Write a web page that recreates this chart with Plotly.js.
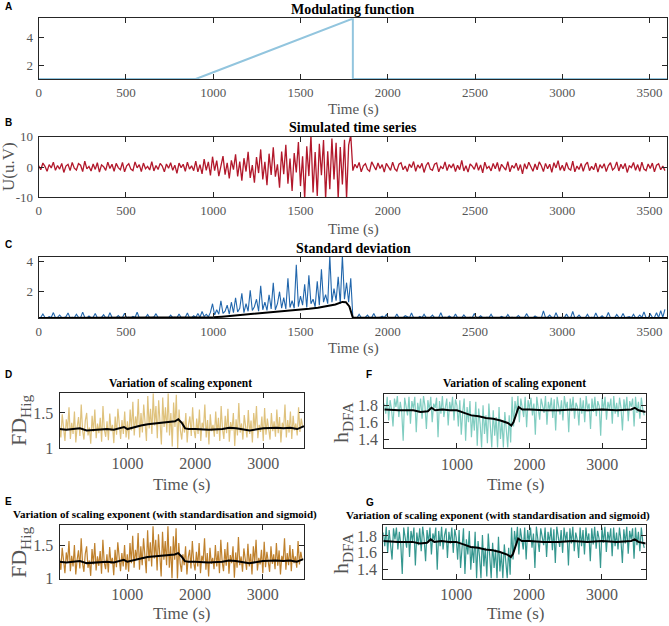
<!DOCTYPE html>
<html>
<head>
<meta charset="utf-8">
<script src="https://cdn.plot.ly/plotly-3.0.1.min.js"></script>
<style>html,body{margin:0;padding:0;background:#fff;}#chart{width:669px;height:626px;}</style>
</head>
<body>
<div id="chart"></div>
<script>
// ---------- DATA ----------
// A: modulating function
const modT = [0, 900, 1800, 1800, 3600];
const modV = [1, 1, 5.4, 1, 1];

// B: simulated time series (one value every 12 s from 0 s)
const simStart = 0, simStep = 12;
const simV = [
 0.4,-0.9,1.3,0.2,-1.4,0.8,-0.3,1.6,-1.1,0.5,
 -0.7,1.2,-1.8,0.3,0.9,-1.2,1.5,-0.4,-1.0,1.1,
 0.6,-1.5,1.9,-0.6,0.2,-1.3,1.0,-0.8,1.4,-1.7,
 0.7,0.1,-1.1,1.6,-0.5,0.9,-1.4,1.2,-0.2,-0.9,
 1.5,-1.6,0.4,1.1,-0.7,-1.2,1.7,-0.3,0.8,-1.5,
 1.3,-0.6,0.2,-1.0,1.8,-1.3,0.5,-0.8,1.2,0.3,
 -1.6,1.0,-0.4,1.4,-1.1,0.6,-2.1,1.3,-0.2,0.9,
 -1.4,1.6,-0.7,0.4,-1.2,
 1.9,-1.6,0.8,-2.3,2.6,-1.1,1.7,-2.8,
 3.4,-1.2,2.1,-3.0,0.8,3.6,-2.5,1.4,-3.8,2.2,
 -0.9,4.2,-3.1,1.8,-4.5,2.9,-1.5,5.0,-3.6,0.6,
 -5.2,3.3,-2.0,5.8,-4.1,1.7,-6.0,4.4,-2.6,6.5,
 -3.2,0.9,-6.8,5.1,-2.4,7.3,-5.5,2.8,-7.9,4.6,
 -1.8,8.2,-6.3,3.5,-10.5,6.8,-3.0,10.5,-8.4,4.9,
 -9.6,7.7,-2.7,8.9,-10.5,5.2,-7.3,9.4,-4.1,8.0,
 -10.5,6.6,-5.8,9.0,-10.5,7.2,10.5,
 -1.2,0.9,-0.3,1.5,-1.6,0.4,1.1,-0.8,-1.4,1.7,
 0.2,-1.0,1.3,-0.5,0.8,-1.7,1.2,0.1,-1.1,1.6,
 -0.6,-1.3,0.9,1.4,-0.9,0.3,-1.5,1.0,-0.2,1.8,
 -1.4,0.7,-0.4,1.2,-1.8,0.5,1.5,-0.7,-1.1,0.9,
 1.3,-1.6,0.2,-0.6,1.7,-1.2,0.8,-0.3,1.1,-1.5,
 0.6,-0.9,2.2,-1.3,0.4,-1.7,1.0,0.3,-0.8,1.4,
 -1.1,0.7,-1.9,1.6,-0.5,0.2,-1.3,1.2,-0.6,1.5,
 -1.4,0.9,0.1,-1.0,1.8,-1.6,0.5,-0.4,1.3,-1.2,
 0.8,-2.3,1.1,-0.7,1.6,-0.2,-1.4,1.0,-0.9,1.7,
 0.4,-1.5,1.2,-0.6,0.9,-1.8,1.4,-0.3,2.1,-1.1,
 0.6,-1.3,1.5,-0.5,-1.0,1.9,-1.6,0.3,-0.8,1.2,
 -1.4,0.7,1.6,-1.2,0.2,-0.9,1.3,-1.7,0.8,-0.4,
 1.1,-1.5,0.5,1.4,-1.0,-0.3,1.7,-1.3,0.9,-0.6,
 1.2,-1.8,0.4,-0.2,1.5,-1.1,0.8,-1.4,1.6,-0.7,
 -1.2,1.0,-0.5,1.3,-1.6,0.6,1.1,-0.9,0.3,-1.2
];

// C: standard deviation (one value every 12 s) and its smoothed curve
const sdV = [
 0.27,0.3,0.52,0.28,0.26,0.35,0.29,0.61,0.27,0.3,
 0.45,0.28,0.26,0.33,0.58,0.27,0.29,0.26,0.5,0.3,
 0.27,0.64,0.28,0.26,0.38,0.27,0.3,0.55,0.26,0.28,
 0.29,0.47,0.27,0.26,0.6,0.3,0.28,0.27,0.42,0.26,
 0.29,0.57,0.27,0.3,0.26,0.36,0.28,0.63,0.27,0.26,
 0.3,0.28,0.49,0.27,0.26,0.31,0.54,0.28,0.27,0.26,
 0.3,0.28,0.26,0.44,0.27,0.29,0.26,0.52,0.28,0.27,
 0.3,0.58,0.27,0.26,0.4,
 0.29,0.55,0.3,0.68,0.35,0.5,0.32,0.62,
 1.2,0.45,0.8,0.5,1.4,0.55,0.7,1.1,0.5,1.3,
 0.6,1.6,0.65,0.9,1.9,0.6,1.2,0.7,2.1,0.75,
 1.0,1.5,0.7,2.4,0.8,1.3,0.75,1.8,0.85,2.6,
 0.8,1.2,2.0,0.9,1.6,0.85,2.9,0.95,1.4,0.9,
 3.8,1.0,1.7,1.1,2.5,0.95,3.1,1.2,1.5,1.0,
 2.7,1.1,3.5,1.3,1.8,1.2,4.4,1.3,2.2,1.4,
 3.0,1.2,4.4,1.5,2.6,1.3,2.9,
 0.3,0.27,0.26,0.5,0.28,0.27,0.3,0.44,0.26,0.28,
 0.55,0.27,0.26,0.29,0.37,0.27,0.48,0.26,0.28,0.3,
 0.27,0.52,0.26,0.28,0.27,0.4,0.3,0.26,0.58,0.27,
 0.28,0.26,0.35,0.27,0.5,0.28,0.26,0.3,0.45,0.27,
 0.26,0.28,0.6,0.27,0.3,0.26,0.38,0.28,0.27,0.52,
 0.26,0.29,0.27,0.46,0.28,0.26,0.3,0.27,0.55,0.26,
 0.28,0.4,0.27,0.26,0.3,0.28,0.5,0.27,0.26,0.29,
 0.27,0.36,0.28,0.26,0.48,0.27,0.3,0.26,0.28,0.42,
 0.27,0.26,0.3,0.54,0.28,0.27,0.26,0.38,0.29,0.27,
 0.26,0.72,0.28,0.3,0.45,0.27,0.26,0.6,0.28,0.27,
 0.3,0.26,0.52,0.28,0.27,0.68,0.26,0.29,0.44,0.27,
 0.28,0.26,0.5,0.27,0.3,0.26,0.58,0.28,0.27,0.4,
 0.26,0.29,0.62,0.27,0.28,0.26,0.48,0.3,0.27,0.55,
 0.26,0.28,0.34,0.27,0.5,0.26,0.3,0.45,0.28,0.66,
 0.27,0.26,0.52,0.3,0.28,0.6,0.27,0.74,0.3,0.82
];
const sdSmoothT = [0, 990, 1000, 1050, 1100, 1150, 1200, 1250, 1300, 1350, 1400, 1450, 1500, 1550, 1600, 1650, 1700, 1740, 1760, 1780, 1800, 3600];
const sdSmoothV = [0.25, 0.25, 0.3, 0.34, 0.39, 0.43, 0.48, 0.52, 0.58, 0.62, 0.68, 0.73, 0.8, 0.86, 0.93, 1.02, 1.15, 1.32, 1.3, 1.02, 0.27, 0.25];

// D-G: scaling exponents (one value every 20 s from 0 s)
const expStart = 0, expStep = 20;
const fdHig = [
 1.32,1.15,1.48,1.22,1.1,1.41,1.27,1.58,1.13,1.36,
 1.2,1.52,1.08,1.3,1.44,1.17,1.62,1.25,1.12,1.39,
 1.5,1.18,1.29,1.06,1.46,1.23,1.55,1.14,1.35,1.21,
 1.43,1.09,1.6,1.26,1.16,1.38,1.11,1.49,1.24,1.33,
 1.07,1.45,1.19,1.56,1.28,1.13,1.4,1.2,1.52,1.15,
 1.38,1.12,1.55,1.25,1.66,1.18,1.45,1.3,1.7,1.15,
 1.5,1.22,1.62,1.35,1.1,1.74,1.28,1.56,1.2,1.78,
 1.32,1.6,1.14,1.68,1.4,1.05,1.72,1.3,1.58,1.22,
 1.78,1.18,1.5,1.02,1.65,1.3,1.76,1.0,1.55,1.25,
 1.12,1.38,1.22,1.5,1.08,1.34,1.45,1.17,1.58,1.26,
 1.14,1.42,1.2,1.55,1.1,1.36,1.28,1.62,1.15,1.4,
 1.05,1.48,1.24,1.33,1.16,1.52,1.2,1.43,1.1,1.6,
 1.27,1.13,1.46,1.21,1.56,1.09,1.37,1.25,1.5,1.03,
 1.41,1.18,1.64,1.22,1.35,1.12,1.47,1.28,1.15,1.54,
 1.2,1.39,1.08,1.5,1.26,1.6,1.14,1.33,1.23,1.45,
 1.1,1.57,1.19,1.42,1.29,1.12,1.5,1.24,1.38,1.16,
 1.55,1.21,1.44,1.08,1.36,1.27,1.62,1.15,1.4,1.22,
 1.52,1.13,1.46,1.25,1.35,1.18,1.58,1.23,1.42,1.3
];
const fdHigStd = [
 1.3,1.13,1.46,1.2,1.08,1.39,1.25,1.56,1.11,1.34,
 1.18,1.5,1.06,1.28,1.42,1.15,1.6,1.23,1.1,1.37,
 1.48,1.16,1.27,1.04,1.44,1.21,1.53,1.12,1.33,1.19,
 1.41,1.07,1.58,1.24,1.14,1.36,1.09,1.47,1.22,1.31,
 1.05,1.43,1.17,1.54,1.26,1.11,1.38,1.18,1.5,1.13,
 1.36,1.1,1.53,1.23,1.64,1.16,1.43,1.28,1.68,1.13,
 1.48,1.2,1.6,1.33,1.08,1.72,1.26,1.54,1.18,1.78,
 1.3,1.58,1.12,1.66,1.38,1.03,1.7,1.28,1.56,1.2,
 1.78,1.16,1.48,1.0,1.63,1.28,1.75,0.98,1.53,1.23,
 1.1,1.36,1.2,1.48,1.06,1.32,1.43,1.15,1.56,1.24,
 1.12,1.4,1.18,1.53,1.08,1.34,1.26,1.6,1.13,1.38,
 1.03,1.46,1.22,1.31,1.14,1.5,1.18,1.41,1.08,1.58,
 1.25,1.11,1.44,1.19,1.54,1.07,1.35,1.23,1.48,1.01,
 1.39,1.16,1.62,1.2,1.33,1.1,1.45,1.26,1.13,1.52,
 1.18,1.37,1.06,1.48,1.24,1.58,1.12,1.31,1.21,1.43,
 1.08,1.55,1.17,1.4,1.27,1.1,1.48,1.22,1.36,1.14,
 1.53,1.19,1.42,1.06,1.34,1.25,1.6,1.13,1.38,1.2,
 1.5,1.11,1.44,1.23,1.33,1.16,1.56,1.21,1.4,1.28
];
const hDfa = [
 1.82,1.7,1.9,1.62,1.86,1.75,1.55,1.88,1.78,1.91,
 1.66,1.84,1.72,1.38,1.89,1.8,1.68,1.9,1.58,1.85,
 1.76,1.9,1.48,1.83,1.71,1.88,1.64,1.91,1.79,1.52,
 1.86,1.74,1.9,1.6,1.82,1.77,1.89,1.42,1.85,1.7,
 1.91,1.66,1.8,1.88,1.56,1.84,1.73,1.9,1.62,1.87,
 1.8,1.55,1.86,1.45,1.72,1.88,1.38,1.78,1.6,1.85,
 1.42,1.7,1.5,1.84,1.32,1.76,1.58,1.3,1.8,1.46,
 1.68,1.35,1.82,1.52,1.3,1.74,1.44,1.66,1.3,1.78,
 1.4,1.62,1.3,1.72,1.48,1.3,1.68,1.36,1.9,1.55,
 1.85,1.72,1.91,1.6,1.88,1.78,1.66,1.9,1.54,1.86,
 1.75,1.89,1.68,1.82,1.45,1.9,1.77,1.63,1.88,1.8,
 1.71,1.91,1.57,1.84,1.74,1.89,1.65,1.87,1.5,1.9,
 1.79,1.69,1.86,1.62,1.91,1.76,1.84,1.48,1.88,1.73,
 1.9,1.64,1.83,1.78,1.56,1.89,1.7,1.86,1.6,1.91,
 1.75,1.82,1.52,1.88,1.72,1.9,1.67,1.85,1.79,1.44,
 1.89,1.74,1.9,1.63,1.84,1.76,1.88,1.58,1.91,1.7,
 1.83,1.66,1.89,1.77,1.5,1.87,1.73,1.9,1.61,1.85,
 1.78,1.88,1.55,1.9,1.71,1.84,1.64,1.89,1.75,1.68
];
const hDfaStd = [
 1.84,1.68,1.91,1.6,1.87,1.73,1.52,1.89,1.76,1.9,
 1.64,1.85,1.7,1.35,1.9,1.78,1.66,1.91,1.55,1.86,
 1.74,1.9,1.45,1.84,1.69,1.89,1.62,1.91,1.77,1.5,
 1.87,1.72,1.9,1.58,1.83,1.75,1.9,1.4,1.86,1.68,
 1.91,1.64,1.81,1.89,1.54,1.85,1.71,1.9,1.6,1.88,
 1.78,1.52,1.87,1.42,1.7,1.89,1.35,1.76,1.58,1.86,
 1.4,1.68,1.48,1.85,1.3,1.74,1.56,1.3,1.81,1.44,
 1.66,1.32,1.83,1.5,1.3,1.72,1.42,1.64,1.3,1.79,
 1.38,1.6,1.3,1.7,1.46,1.3,1.66,1.34,1.9,1.52,
 1.86,1.7,1.91,1.58,1.89,1.76,1.64,1.9,1.52,1.87,
 1.73,1.9,1.66,1.83,1.42,1.91,1.75,1.61,1.89,1.78,
 1.69,1.9,1.55,1.85,1.72,1.9,1.63,1.88,1.48,1.91,
 1.77,1.67,1.87,1.6,1.9,1.74,1.85,1.45,1.89,1.71,
 1.91,1.62,1.84,1.76,1.54,1.9,1.68,1.87,1.58,1.9,
 1.73,1.83,1.5,1.89,1.7,1.91,1.65,1.86,1.77,1.42,
 1.9,1.72,1.91,1.61,1.85,1.74,1.89,1.56,1.9,1.68,
 1.84,1.64,1.9,1.75,1.48,1.88,1.71,1.91,1.59,1.86,
 1.76,1.89,1.53,1.9,1.69,1.85,1.62,1.9,1.73,1.66
];
// smoothed curves (black)
const fdSmoothT = [0,100,200,300,400,500,600,700,800,900,950,1000,1100,1200,1300,1400,1500,1600,1700,1750,1800,1850,1900,2000,2200,2400,2500,2600,2800,3000,3200,3300,3400,3500,3600];
const fdHigSmooth = [1.27,1.26,1.27,1.28,1.25,1.26,1.27,1.27,1.26,1.28,1.3,1.27,1.3,1.32,1.34,1.35,1.36,1.37,1.38,1.41,1.36,1.28,1.27,1.27,1.26,1.27,1.29,1.28,1.25,1.28,1.29,1.28,1.29,1.27,1.31];
const fdHigStdSmooth = [1.25,1.24,1.25,1.26,1.23,1.24,1.25,1.25,1.24,1.26,1.28,1.25,1.28,1.3,1.32,1.33,1.34,1.35,1.36,1.38,1.33,1.26,1.25,1.25,1.24,1.25,1.27,1.26,1.23,1.26,1.27,1.26,1.27,1.25,1.29];
const hSmoothT = [0,200,400,500,600,650,700,800,900,1000,1100,1200,1300,1400,1500,1600,1700,1750,1780,1820,1850,1900,2000,2200,2400,2600,2800,3000,3200,3400,3450,3500,3600];
const hDfaSmooth = [1.75,1.74,1.74,1.72,1.73,1.77,1.74,1.75,1.74,1.74,1.71,1.68,1.67,1.65,1.64,1.62,1.59,1.56,1.6,1.72,1.78,1.75,1.75,1.74,1.74,1.75,1.74,1.75,1.74,1.75,1.77,1.74,1.72];
const hDfaStdSmooth = [1.74,1.73,1.73,1.71,1.72,1.76,1.73,1.74,1.73,1.73,1.7,1.67,1.66,1.64,1.63,1.61,1.58,1.55,1.59,1.71,1.77,1.74,1.74,1.73,1.73,1.74,1.73,1.74,1.73,1.74,1.76,1.73,1.71];

// tick labels
const longTicks = [0,500,1000,1500,2000,2500,3000,3500];
const shortTicks = [1000,2000,3000];
const simTicks = [-10,0,10];
const simTickText = ['-10','0','10'];

// texts
const panelLetters = ['A','B','C','D','E','F','G'];
const panelTitles = ['Modulating function','Simulated time series','Standard deviation',
  'Variation of scaling exponent','Variation of scaling exponent (with standardisation and sigmoid)',
  'Variation of scaling exponent','Variation of scaling exponent (with standardisation and sigmoid)'];
const timeLabel = 'Time (s)';
const simYLabel = 'U(u.V)';
const fdYLabel = 'FD<sub>Hig</sub>';
const hYLabel = 'h<sub>DFA</sub>';

// ---------- LAYOUT HELPERS ----------
const W = 669, H = 626;
const px = v => v / W;
const py = v => 1 - v / H;
const SERIF = 'Liberation Serif, Times New Roman, serif';
const AX = '#262626', TXT = '#555555';

function xax(l, r, anchor, range, tickvals, size) {
  return {domain:[px(l), px(r)], anchor, range, tickvals, ticktext: tickvals.map(String),
    showline:true, mirror:'ticks', linecolor:AX, linewidth:1, ticks:'inside', ticklen:5, tickcolor:AX,
    showgrid:false, zeroline:false, tickfont:{family:SERIF, size, color:TXT}, ticklabelstandoff:1};
}
function yax(t, b, anchor, range, tickvals, ticktext, size) {
  return {domain:[py(b), py(t)], anchor, range, tickvals, ticktext: ticktext || tickvals.map(String),
    showline:true, mirror:'ticks', linecolor:AX, linewidth:1, ticks:'inside', ticklen:5, tickcolor:AX,
    showgrid:false, zeroline:false, tickfont:{family:SERIF, size, color:TXT}, ticklabelstandoff:2};
}

const traces = [
  {x:modT, y:modV, xaxis:'x', yaxis:'y', mode:'lines', line:{color:'#92c5de', width:2}},
  {x0:simStart, dx:simStep, y:simV, xaxis:'x2', yaxis:'y2', mode:'lines', line:{color:'#b2182b', width:1.3}},
  {x0:simStart, dx:simStep, y:sdV, xaxis:'x3', yaxis:'y3', mode:'lines', line:{color:'#2166ac', width:1.1}},
  {x:sdSmoothT, y:sdSmoothV, xaxis:'x3', yaxis:'y3', mode:'lines', line:{color:'#000', width:2}},
  {x0:expStart, dx:expStep, y:fdHig, xaxis:'x4', yaxis:'y4', mode:'lines', line:{color:'#dfc27d', width:1.2}},
  {x:fdSmoothT, y:fdHigSmooth, xaxis:'x4', yaxis:'y4', mode:'lines', line:{color:'#000', width:2}},
  {x0:expStart, dx:expStep, y:fdHigStd, xaxis:'x6', yaxis:'y6', mode:'lines', line:{color:'#bf812d', width:1.2}},
  {x:fdSmoothT, y:fdHigStdSmooth, xaxis:'x6', yaxis:'y6', mode:'lines', line:{color:'#000', width:2}},
  {x0:expStart, dx:expStep, y:hDfa, xaxis:'x5', yaxis:'y5', mode:'lines', line:{color:'#80cdc1', width:1.2}},
  {x:hSmoothT, y:hDfaSmooth, xaxis:'x5', yaxis:'y5', mode:'lines', line:{color:'#000', width:2}},
  {x0:expStart, dx:expStep, y:hDfaStd, xaxis:'x7', yaxis:'y7', mode:'lines', line:{color:'#35978f', width:1.2}},
  {x:hSmoothT, y:hDfaStdSmooth, xaxis:'x7', yaxis:'y7', mode:'lines', line:{color:'#000', width:2}}
];

function ann(text, x, y, opts) {
  return Object.assign({text, x:px(x), y:py(y), xref:'paper', yref:'paper', showarrow:false,
    xanchor:'center', yanchor:'middle'}, opts || {});
}
const titleFont = s => ({family:SERIF, size:s, color:'#000', weight:'bold'});
const letterFont = {family:'Liberation Sans, Arial, sans-serif', size:10, color:'#000', weight:'bold'};
const axFont = s => ({family:SERIF, size:s, color:TXT});

const annotations = [
  ann(panelLetters[0], 3, 7, {xanchor:'left', font:letterFont}),
  ann(panelLetters[1], 3, 123, {xanchor:'left', font:letterFont}),
  ann(panelLetters[2], 3, 245, {xanchor:'left', font:letterFont}),
  ann(panelLetters[3], 3, 375, {xanchor:'left', font:letterFont}),
  ann(panelLetters[4], 3, 501, {xanchor:'left', font:letterFont}),
  ann(panelLetters[5], 364, 375, {xanchor:'left', font:letterFont}),
  ann(panelLetters[6], 364, 502, {xanchor:'left', font:letterFont}),
  ann(panelTitles[0], 353, 9, {font:titleFont(14)}),
  ann(panelTitles[1], 353, 127, {font:titleFont(14)}),
  ann(panelTitles[2], 353, 248, {font:titleFont(14)}),
  ann(panelTitles[3], 180, 383, {font:titleFont(11.5)}),
  ann(panelTitles[4], 165, 514, {font:titleFont(11)}),
  ann(panelTitles[5], 514, 383, {font:titleFont(11.5)}),
  ann(panelTitles[6], 498, 515, {font:titleFont(11)}),
  ann(timeLabel, 353, 110, {font:axFont(15)}),
  ann(timeLabel, 353, 229, {font:axFont(15)}),
  ann(timeLabel, 353, 348, {font:axFont(15)}),
  ann(timeLabel, 181, 484, {font:axFont(17)}),
  ann(timeLabel, 181, 613, {font:axFont(17)}),
  ann(timeLabel, 515, 484, {font:axFont(17)}),
  ann(timeLabel, 515, 613, {font:axFont(17)}),
  ann(simYLabel, 9, 167, {textangle:-90, font:axFont(17)}),
  ann(fdYLabel, 20, 420, {textangle:-90, font:axFont(22)}),
  ann(fdYLabel, 20, 552, {textangle:-90, font:axFont(22)}),
  ann(hYLabel, 342, 423, {textangle:-90, font:axFont(22)}),
  ann(hYLabel, 342, 554, {textangle:-90, font:axFont(22)})
];

const layout = {
  width:W, height:H, margin:{l:0, r:0, t:0, b:0}, showlegend:false,
  paper_bgcolor:'#fff', plot_bgcolor:'#fff',
  xaxis:  xax(38.7, 667, 'y',  [0, 3600], longTicks, 13),
  yaxis:  yax(18.3, 79.3, 'x', [0.98, 5.42], [2, 4], null, 13),
  xaxis2: xax(38.7, 667, 'y2', [0, 3600], longTicks, 13),
  yaxis2: yax(136.7, 197.3, 'x2', [-10, 10], simTicks, simTickText, 13),
  xaxis3: xax(38.7, 667, 'y3', [0, 3600], longTicks, 13),
  yaxis3: yax(256.7, 318, 'x3', [0.25, 4.33], [2, 4], null, 13),
  xaxis4: xax(59.5, 304, 'y4', [0, 3600], shortTicks, 16),
  yaxis4: yax(393.3, 448, 'x4', [1, 1.78], [1, 1.5], ['1','1.5'], 16),
  xaxis5: xax(384.3, 645.7, 'y5', [0, 3600], shortTicks, 16),
  yaxis5: yax(394.3, 448.3, 'x5', [1.29, 1.93], [1.4, 1.6, 1.8], ['1.4','1.6','1.8'], 16),
  xaxis6: xax(59.5, 303.5, 'y6', [0, 3600], shortTicks, 16),
  yaxis6: yax(525, 578.5, 'x6', [1, 1.8], [1, 1.5], ['1','1.5'], 16),
  xaxis7: xax(383.3, 645.7, 'y7', [0, 3600], shortTicks, 16),
  yaxis7: yax(525, 579, 'x7', [1.29, 1.93], [1.4, 1.6, 1.8], ['1.4','1.6','1.8'], 16),
  annotations
};

Plotly.newPlot('chart', traces, layout, {displayModeBar:false, staticPlot:true});
</script>
</body>
</html>
